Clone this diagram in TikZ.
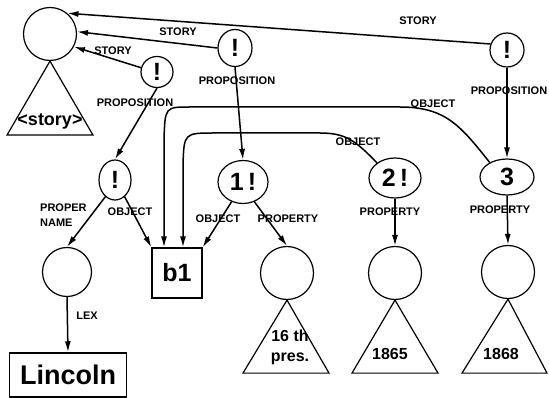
\documentclass[tikz,border=0pt]{standalone}
\usepackage{fontspec}
\setmainfont{Liberation Sans}
\usetikzlibrary{positioning,shapes.geometric,arrows.meta}

\tikzset{
  >={Latex[length=11pt,width=6pt]},
  lbl/.style={font=\bfseries\fontsize{11}{12}\selectfont, inner sep=0pt},
  bang/.style={draw, ellipse, line width=1.2pt, inner sep=0pt, font=\bfseries\fontsize{25}{25}\selectfont},
  val/.style={draw, circle, line width=1.2pt, inner sep=0pt, minimum size=53pt},
  tri/.style={draw, line width=1.2pt},
  link/.style={->, line width=1.5pt},
}

\begin{document}
\begin{tikzpicture}[x=1pt,y=-1pt]
\useasboundingbox (0,0) rectangle (549,398);
% story node
\node [val] (story) at (50,34) {};
\draw [tri] (story.south) -- ++(-43,74) -- ++(86,0) -- cycle;
\node [font=\bfseries\fontsize{18}{18}\selectfont] (tstory) at (50,121) {<story>};
% propositions
\node [bang, minimum width=32pt, minimum height=31pt] (p1) at (157,72) {!};
\node [bang, minimum width=34pt, minimum height=37pt] (p2) at (235,48) {!};
\node [bang, minimum width=34pt, minimum height=34pt] (p3) at (507,50) {!};
\node [bang, minimum width=32pt, minimum height=40pt] (p4) at (115,180) {!};
\node [bang, minimum width=50pt, minimum height=43pt] (n1) at (243,182) {1\,!};
\node [bang, minimum width=52pt, minimum height=40pt] (n2) at (395,178) {2\,!};
\node [bang, minimum width=54pt, minimum height=36pt] (n3) at (507,177) {3};
% bottom row
\node [val, minimum size=49pt] (name) at (67,272) {};
\node [draw, line width=1.2pt, minimum size=50pt, font=\bfseries\fontsize{25}{25}\selectfont] (b1) at (177,273) {b1};
\node [val] (pres) at (287,273) {};
\node [val] (died) at (395,273) {};
\node [val] (year) at (508,272) {};
\node [draw, line width=1.5pt, minimum width=117pt, minimum height=44pt, font=\bfseries\fontsize{27}{27}\selectfont] (lincoln) at (68,375) {Lincoln};
% triangles
\draw [tri] (pres.south) -- ++(-44,73) -- ++(86,0) -- cycle;
\draw [tri] (died.south) -- ++(-43,73) -- ++(86,0) -- cycle;
\draw [tri] (year.south) -- ++(-46,74) -- ++(85,0) -- cycle;
\node [align=center, font=\bfseries\fontsize{16}{20}\selectfont] (tpres) at (290,347) {16 th\\pres.};
\node [font=\bfseries\fontsize{16}{16}\selectfont] (tdied) at (390,354) {1865};
\node [font=\bfseries\fontsize{16}{16}\selectfont] (tyear) at (501,354) {1868};
% story links
\draw [link] (p3.160) -- (story.50);
\draw [link] (p2.west) -- (story.5);
\draw [link] (p1.165) -- (story.-28);
% proposition links
\draw [link] (p1.south) -- (p4.north);
\draw [link] (p2.south) -- (n1.north);
\draw [link] (p3.south) -- (n3.north);
% object links
\draw [link] (p4.-120) -- (name.north);
\draw [link] (p4.-60) -- (b1.north west);
\draw [link] (n1.-120) -- (b1.north east);
\draw [link] (n3.140) .. controls (460,125) and (445,107) .. (400,107) -- (190,107)
  .. controls (165,107) .. (164,140) -- (164,0 |- b1.north);
\draw [link] (n2.140) .. controls (355,140) and (345,133) .. (320,133) -- (215,133)
  .. controls (184,133) .. (183,165) -- (183,0 |- b1.north);
% property links
\draw [link] (n1.-60) -- (pres.north);
\draw [link] (n2.south) -- (died.north);
\draw [link] (n3.south) -- (year.north);
\draw [link] (name.south) -- (lincoln.north);
% labels
\node [lbl] (l1) at (418,21) {STORY};
\node [lbl] (l2) at (178,32) {STORY};
\node [lbl] (l3) at (113,51) {STORY};
\node [lbl] (l4) at (135,103) {PROPOSITION};
\node [lbl] (l5) at (237,81) {PROPOSITION};
\node [lbl] (l6) at (509,91) {PROPOSITION};
\node [lbl] (l7) at (433,104) {OBJECT};
\node [lbl] (l8) at (358,142) {OBJECT};
\node [lbl, align=left, anchor=west, font=\bfseries\fontsize{11}{15}\selectfont] (l9) at (40,215) {PROPER\\NAME};
\node [lbl] (l10) at (130,212) {OBJECT};
\node [lbl] (l11) at (218,219) {OBJECT};
\node [lbl] (l12) at (288,219) {PROPERTY};
\node [lbl] (l13) at (390,212) {PROPERTY};
\node [lbl] (l14) at (500,210) {PROPERTY};
\node [lbl] (l15) at (87,316) {LEX};
\end{tikzpicture}
\end{document}
